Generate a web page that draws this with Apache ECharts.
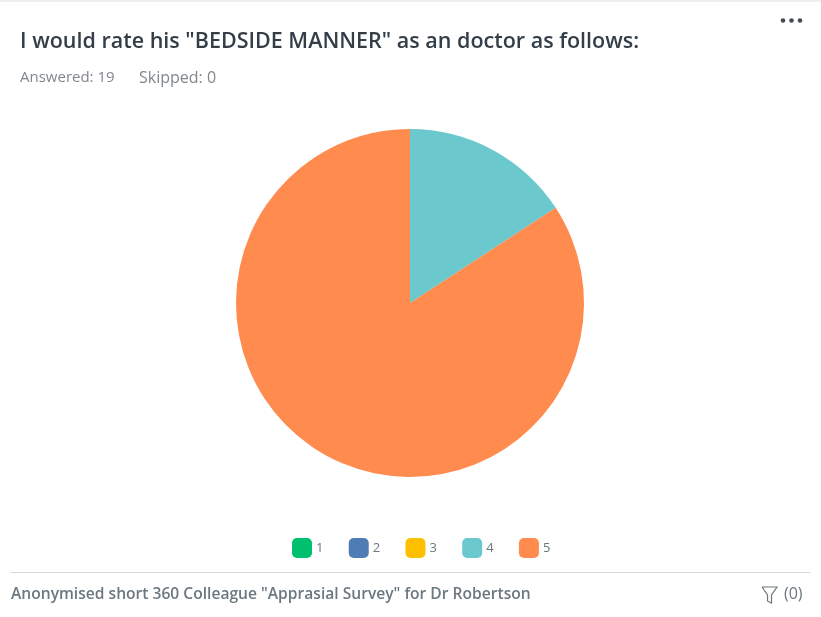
<!DOCTYPE html>
<html><head><meta charset="utf-8">
<style>html,body{margin:0;padding:0;background:#fff}#c{width:821px;height:617px}</style>
<script src="https://cdn.jsdelivr.net/npm/echarts@6/dist/echarts.min.js"></script></head>
<body><div id="c"></div>
<script>
const categories = ['1','2','3','4','5'];
const values = [0,0,0,3,16];
const colors = ['#00BF6F','#507CB6','#FDBF00','#6BC8CD','#FF8B4F'];
const titleText = 'I would rate his "BEDSIDE MANNER" as an doctor as follows:';
const statsAnswered = 'Answered: 19';
const statsSkipped = 'Skipped: 0';
const footerText = 'Anonymised short 360 Colleague "Apprasial Survey" for Dr Robertson';
const filterText = '(0)';
const font = 'Open Sans';
const chart = echarts.init(document.getElementById('c'));
chart.setOption({
  animation:false,
  color:colors,
  backgroundColor:'#fff',
  title:{text:titleText,left:20,top:31,padding:0,textStyle:{fontFamily:font,fontSize:21.5,fontWeight:600,color:'#333e48'}},
  legend:{
    data:categories,left:292,top:538,itemWidth:20,itemHeight:20,itemGap:25.3,padding:0,
    icon:'roundRect',selectedMode:false,
    textStyle:{fontFamily:font,fontSize:13,color:'#6b787f',padding:[2,0,0,-1]}
  },
  series:[{
    type:'pie',center:[410,303],radius:[0,174],startAngle:90,clockwise:true,
    label:{show:false},labelLine:{show:false},silent:true,
    itemStyle:{borderWidth:0},
    data:categories.map((c,i)=>({name:c,value:values[i]}))
  }],
  graphic:[
    {type:'rect',shape:{x:0,y:0,width:821,height:2},style:{fill:'#eeeeee'}},
    {type:'text',x:20,y:70,style:{text:statsAnswered,fontFamily:font,fontSize:15,fill:'#80878c'}},
    {type:'text',x:139,y:70,style:{text:statsSkipped,fontFamily:font,fontSize:16,fill:'#80878c'}},
    {type:'circle',shape:{cx:783,cy:20.5,r:2.3},style:{fill:'#444c52'}},
    {type:'circle',shape:{cx:791.5,cy:20.5,r:2.3},style:{fill:'#444c52'}},
    {type:'circle',shape:{cx:800,cy:20.5,r:2.3},style:{fill:'#444c52'}},
    {type:'rect',shape:{x:10,y:572,width:800,height:1},style:{fill:'#d9d9d9'}},
    {type:'text',x:11,y:587,style:{text:footerText,fontFamily:font,fontSize:15.6,fontWeight:600,fill:'#6b787f'}},
    {type:'polyline',shape:{points:[[762,587],[777,587],[771.5,595],[771.5,603],[767.5,601],[767.5,595],[762,587]]},style:{fill:'none',stroke:'#6b787f',lineWidth:1.2}},
    {type:'text',x:784,y:586,style:{text:filterText,fontFamily:font,fontSize:16,fill:'#6b787f'}}
  ]
});
</script></body></html>
